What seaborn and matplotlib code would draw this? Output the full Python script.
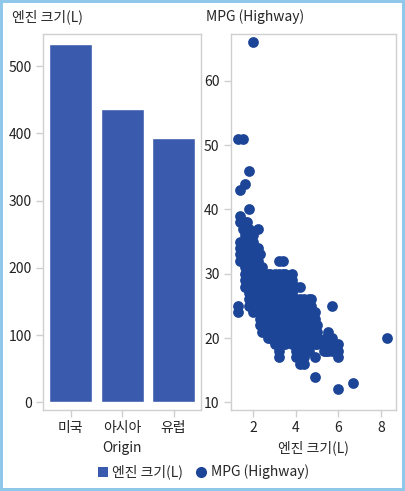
import numpy as np
import pandas as pd
import matplotlib
matplotlib.use("Agg")
import matplotlib.pyplot as plt
from matplotlib.lines import Line2D
import seaborn as sns

# bar panel: sum of engine size by origin
origins = ["미국", "아시아", "유럽"]
engine_sum = [533.5, 436.6, 393.5]

# scatter panel: engine size (L) -> list of highway MPG values
mpg_by_engine = {
	1.3: [51, 25, 24],
	1.4: [43, 39, 38, 35, 34, 33, 32],
	1.5: [51, 37, 35, 34, 33, 32],
	1.6: [44, 38, 37, 36, 35, 34, 33, 31, 30, 29, 28],
	1.7: [38, 36, 35, 34, 33, 32, 30, 29, 28],
	1.8: [46, 40, 37, 35, 34, 33, 32, 31, 30, 29, 28, 27, 26, 25],
	2.0: [66, 36, 35, 34, 33, 32, 31, 30, 29, 28, 27, 26, 25, 24],
	2.2: [37, 34, 33, 32, 31, 30, 29, 28, 27, 26, 25, 24],
	2.3: [33, 30, 29, 28, 27, 26, 25, 24, 23, 22],
	2.4: [31, 30, 29, 28, 27, 26, 25, 24, 23, 22, 21],
	2.5: [30, 29, 28, 27, 26, 25, 24, 23, 22],
	2.7: [30, 29, 28, 27, 26, 25, 24, 23, 22, 21, 20],
	2.8: [30, 28, 27, 26, 25, 24, 23, 22, 21, 20],
	3.0: [30, 29, 28, 27, 26, 25, 24, 23, 22, 21, 20, 19],
	3.2: [32, 30, 29, 28, 27, 26, 25, 24, 23, 22, 21, 20, 19, 18, 17],
	3.4: [32, 30, 29, 28, 27, 26, 25, 24, 23, 22, 21, 20, 19],
	3.5: [30, 29, 28, 27, 26, 25, 24, 23, 22, 21, 20, 19],
	3.8: [30, 29, 28, 27, 26, 25, 24, 23, 22, 21, 20, 19],
	4.0: [28, 26, 25, 24, 23, 22, 21, 20, 19, 18, 17],
	4.2: [28, 26, 25, 24, 23, 22, 21, 20, 19, 18, 17, 16],
	4.4: [26, 25, 24, 23, 22, 21, 20, 19, 18, 17, 16],
	4.6: [26, 25, 24, 23, 22, 21, 20, 19, 18],
	4.7: [26, 25, 24, 23, 22, 21, 20, 19],
	4.9: [24, 23, 22, 21, 20, 19, 17, 14],
	5.0: [22, 21, 20, 19],
	5.3: [19, 18],
	5.4: [20, 19, 18],
	5.5: [21, 19, 18],
	5.7: [25, 20, 19, 18],
	6.0: [19, 18, 17, 12],
	6.7: [13],
	8.3: [20],
}

bar_color = "#3a5aad"
dot_color = "#1c4597"
frame_color = "#cfcfcf"

sns.set_style("white")
plt.rcParams["font.family"] = ["Noto Sans CJK KR", "DejaVu Sans"]
plt.rcParams["font.size"] = 10

df_bar = pd.DataFrame({"Origin": origins, "engine": engine_sum})
rows = [(e, m) for e, ms in mpg_by_engine.items() for m in ms]
df_pts = pd.DataFrame(rows, columns=["engine", "mpg"])

fig = plt.figure(figsize=(4.05, 4.91), dpi=100)
fig.patch.set_edgecolor("#8fc8ea")
fig.patch.set_linewidth(4)

W, H = 405, 491
ax1 = fig.add_axes([42.7 / W, 1 - 410 / H, 158.3 / W, 376 / H])
ax2 = fig.add_axes([230.7 / W, 1 - 410 / H, 165.3 / W, 376 / H])

sns.barplot(data=df_bar, x="Origin", y="engine", color=bar_color, width=0.835,
			saturation=1, ax=ax1)
ax1.set_xlim(-0.54, 2.534)
ax1.set_ylim(-11.5, 548)
ax1.set_yticks([0, 100, 200, 300, 400, 500])
ax1.set_ylabel("")
ax1.set_xlabel("Origin", labelpad=4)

sns.scatterplot(data=df_pts, x="engine", y="mpg", color=dot_color, s=60,
				linewidth=0, ax=ax2)
ax2.set_xlim(0.94, 8.7)
ax2.set_ylim(8.8, 67.3)
ax2.set_xticks([2, 4, 6, 8])
ax2.set_yticks([10, 20, 30, 40, 50, 60])
ax2.set_ylabel("")
ax2.set_xlabel("엔진 크기(L)", labelpad=4)

for ax in (ax1, ax2):
	for sp in ax.spines.values():
		sp.set_color(frame_color)
		sp.set_linewidth(1)
	ax.tick_params(axis="both", which="both", direction="out", length=5,
				   width=1, color=frame_color, labelsize=10, labelcolor="#222222",
				   bottom=True, left=True, pad=3)

fig.text(12 / W, 1 - 17 / H, "엔진 크기(L)", ha="left", va="center", fontsize=10)
fig.text(206 / W, 1 - 17 / H, "MPG (Highway)", ha="left", va="center", fontsize=10)

handles = [
	Line2D([], [], marker="s", linestyle="none", markersize=7,
		   markerfacecolor=bar_color, markeredgewidth=0),
	Line2D([], [], marker="o", linestyle="none", markersize=8,
		   markerfacecolor=dot_color, markeredgewidth=0),
]
fig.legend(handles, ["엔진 크기(L)", "MPG (Highway)"], loc="center",
		   bbox_to_anchor=(0.5, 1 - 472 / H), ncol=2, frameon=False,
		   handletextpad=0.2, columnspacing=0.8, handlelength=1.0, fontsize=10)

fig.savefig("out.png", dpi=100)
